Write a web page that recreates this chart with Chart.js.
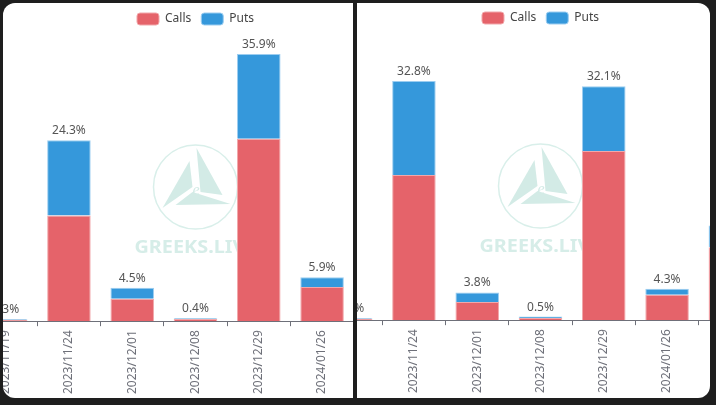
<!DOCTYPE html>
<html><head><meta charset="utf-8">
<script src="https://cdn.jsdelivr.net/npm/chart.js@4.4.0/dist/chart.umd.min.js"></script>
<style>
html,body{margin:0;padding:0;background:#1e1e1e;width:716px;height:405px;overflow:hidden;}
.panel{position:absolute;top:3px;height:395px;background:#fff;overflow:hidden;}
#p1{left:3px;width:350px;border-radius:12px 0 0 12px;}
#p2{left:357px;width:352.5px;border-radius:0 12px 12px 0;}
.cw{position:absolute;width:443px;height:395px;}
#w1{left:-29px;top:0px;}
#w2{left:-38px;top:-1px;}
</style>
</head><body>
<div class="panel" id="p1"><div class="cw" id="w1"><canvas id="c1"></canvas></div></div>
<div class="panel" id="p2"><div class="cw" id="w2"><canvas id="c2"></canvas></div></div>
<script>
const categories = ['2023/11/19','2023/11/24','2023/12/01','2023/12/08','2023/12/29','2024/01/26','2024/02/23'];
const leftCalls  = [0.2, 14.2, 3.0, 0.3, 24.5, 4.6, 8.0];
const leftPuts   = [0.1, 10.1, 1.5, 0.1, 11.4, 1.3, 4.0];
const rightCalls = [0.2, 19.9, 2.5, 0.3, 23.2, 3.5, 10.0];
const rightPuts  = [0.1, 12.9, 1.3, 0.2, 8.9, 0.8, 3.0];
const seriesNames = ['Calls', 'Puts'];

const FONT = '"Noto Sans", "Open Sans", sans-serif';
const RED = '#E5636A', RED_B = '#F1A7AA';
const BLUE = '#3598DB', BLUE_B = '#9CCDF0';
const AXIS = '#6E7079';

const totalLabels = {
  id: 'totalLabels',
  afterDatasetsDraw(chart) {
    const ctx = chart.ctx;
    const meta = chart.getDatasetMeta(1);
    const a = chart.data.datasets[0].data, b = chart.data.datasets[1].data;
    ctx.save();
    ctx.font = '12px ' + FONT;
    ctx.fillStyle = '#555';
    ctx.textAlign = 'center';
    ctx.textBaseline = 'alphabetic';
    meta.data.forEach((bar, i) => {
      ctx.fillText((a[i] + b[i]).toFixed(1) + '%', bar.x, bar.y - 6);
    });
    ctx.restore();
  }
};

const watermark = {
  id: 'watermark',
  beforeDatasetsDraw(chart) {
    const ctx = chart.ctx;
    const cx = chart.width / 2, cy = 184;
    ctx.save();
    ctx.strokeStyle = '#d9efea';
    ctx.lineWidth = 1.5;
    ctx.beginPath(); ctx.arc(cx, cy, 42, 0, Math.PI * 2); ctx.stroke();
    ctx.fillStyle = '#d3ebe6';
    const tri = (pts) => { ctx.beginPath(); ctx.moveTo(cx + pts[0][0], cy + pts[0][1]); for (let k = 1; k < pts.length; k++) ctx.lineTo(cx + pts[k][0], cy + pts[k][1]); ctx.closePath(); ctx.fill(); };
    tri([[-33, 21], [-6, -26], [-3, 0]]);
    tri([[1, -39], [5, 5], [27, 8]]);
    tri([[-20, 18], [35, 17], [-3, 5]]);
    ctx.font = 'italic 16px serif';
    ctx.fillText('e', cx - 3, cy + 4);
    ctx.font = 'bold 18px ' + FONT;
    ctx.textAlign = 'center';
    ctx.textBaseline = 'alphabetic';
    const txt = 'GREEKS.LIVE';
    const w = ctx.measureText(txt).width;
    ctx.translate(cx, 250);
    ctx.scale(122 / w, 1);
    ctx.fillStyle = '#d6ede8';
    ctx.fillText(txt, 0, 0);
    ctx.restore();
  }
};

function makeChart(id, calls, puts, ymax) {
  return new Chart(document.getElementById(id), {
    type: 'bar',
    data: {
      labels: categories,
      datasets: [
        { label: seriesNames[0], data: calls, backgroundColor: RED, borderColor: RED_B, borderWidth: 1 },
        { label: seriesNames[1], data: puts, backgroundColor: BLUE, borderColor: BLUE_B, borderWidth: 1 }
      ]
    },
    options: {
      responsive: true, maintainAspectRatio: false, animation: false,
      layout: { padding: 0 },
      datasets: { bar: { categoryPercentage: 0.8, barPercentage: 0.86 } },
      plugins: {
        legend: { display: true, position: 'top',
          labels: { boxWidth: 22, boxHeight: 12, padding: 10, color: '#444', font: { size: 12, family: FONT }, useBorderRadius: true, borderRadius: 3 } },
        tooltip: { enabled: false }
      },
      scales: {
        x: { stacked: true,
          grid: { display: true, drawOnChartArea: false, drawTicks: true, tickLength: 5, color: AXIS, offset: true },
          border: { display: true, color: AXIS },
          ticks: { minRotation: 90, maxRotation: 90, autoSkip: false, padding: 4, color: AXIS, font: { size: 12, family: FONT } } },
        y: { stacked: true, display: false, min: 0, max: ymax }
      }
    },
    plugins: [watermark, totalLabels]
  });
}
makeChart('c1', leftCalls, leftPuts, 38.46);
makeChart('c2', rightCalls, rightPuts, 39.25);
</script>
</body></html>
